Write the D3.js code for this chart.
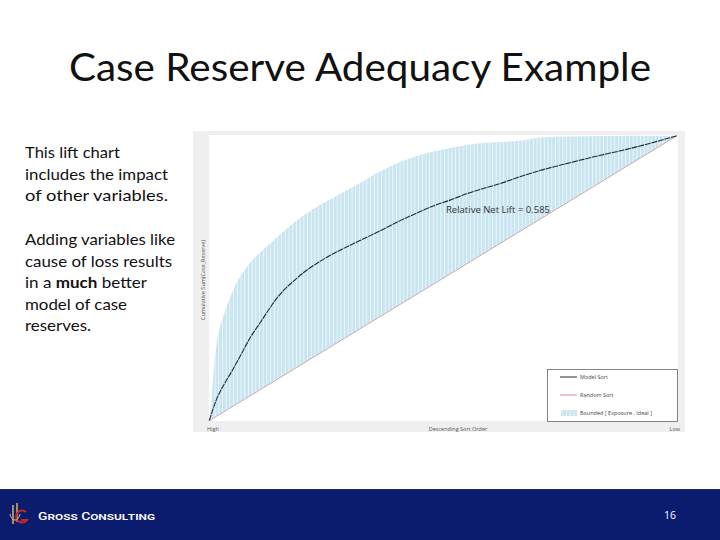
<!DOCTYPE html>
<html>
<head>
<meta charset="utf-8">
<script src="https://cdn.jsdelivr.net/npm/d3@7"></script>
<style>
  html, body { margin: 0; padding: 0; background: #ffffff; }
  svg { display: block; }
</style>
</head>
<body>
<svg id="c" width="720" height="540"></svg>
<script>
// ---- Data (percent of records sorted, percent of cumulative case reserve) ----
const modelX = [0, 1.5, 3.0, 4.8, 6.56, 8.7, 10.84, 12.98, 14.41, 15.82, 17.96, 20.83, 23.67, 26.51, 29.38, 32.2, 37.2, 40.8, 44.3, 47.2, 51.5, 55.0, 58.6, 62.2, 66.4, 71.4, 77.1, 82.0, 85.7, 89.2, 92.8, 96.4, 100];
const modelY = [0, 7.3, 12.3, 17.3, 22.5, 29.0, 34.3, 39.6, 42.9, 45.6, 48.9, 52.8, 55.9, 58.6, 61.0, 63.2, 67.2, 70.2, 72.8, 74.9, 77.4, 79.6, 81.5, 83.2, 85.6, 88.1, 90.5, 92.5, 93.9, 95.2, 96.7, 98.3, 100];
const idealX = [0, 0.51, 1.0, 1.58, 2.99, 5.13, 8.7, 12.27, 15.82, 19.39, 22.96, 26.45, 32.2, 37.1, 44.3, 51.5, 58.5, 66.4, 71.4, 85.7, 100];
const idealY = [0, 8.4, 19.0, 27.3, 36.5, 45.9, 55.3, 61.1, 66.3, 71.1, 75.0, 78.1, 83.4, 88.0, 92.9, 95.7, 97.4, 98.2, 99.5, 99.9, 100];
const randomX = [0, 100];
const randomY = [0, 100];
const xTickLabels = ["High", "Descending Sort Order", "Low"];
const yAxisLabel = "Cumulative Sum(Case_Reserve)";
const annotation = "Relative Net Lift = 0.585";
const legendLabels = ["Model Sort", "Random Sort", "Bounded [ Exposure , Ideal ]"];
const titleText = "Case Reserve Adequacy Example";
const bodyLines = [
  [{t: "This lift chart"}],
  [{t: "includes the impact"}],
  [{t: "of other variables."}],
  null,
  [{t: "Adding variables like"}],
  [{t: "cause of loss results"}],
  [{t: "in a "}, {t: "much", b: true}, {t: " better"}],
  [{t: "model of case"}],
  [{t: "reserves."}]
];
const bodyWidths = [95, 143, 143, null, 150, 147, 122, 102, 66];
const footerName = "Gross Consulting";
const pageNumber = "16";

// ---- Drawing ----
const svg = d3.select("#c");
const defs = svg.append("defs");

// Title
svg.append("text")
  .attr("x", 360).attr("y", 81)
  .attr("text-anchor", "middle")
  .attr("font-family", "Lato, 'Open Sans', sans-serif")
  .attr("font-size", 38)
  .attr("fill", "#111")
  .attr("textLength", 582)
  .attr("lengthAdjust", "spacingAndGlyphs")
  .text(titleText);

// Left body text
const bodyG = svg.append("g")
  .attr("font-family", "Lato, 'Open Sans', sans-serif")
  .attr("font-size", 16)
  .attr("fill", "#111");
const lineY = [158, 180, 201, null, 245, 267, 288, 310, 331];
bodyLines.forEach((ln, i) => {
  if (!ln) return;
  const t = bodyG.append("text").attr("x", 25).attr("y", lineY[i])
    .attr("textLength", bodyWidths[i]).attr("lengthAdjust", "spacingAndGlyphs");
  ln.forEach(p => t.append("tspan").attr("font-weight", p.b ? 700 : 400).text(p.t));
});

// Chart frame
svg.append("rect").attr("x", 193).attr("y", 131).attr("width", 492).attr("height", 301).attr("fill", "#efefef");
svg.append("rect").attr("x", 209).attr("y", 135).attr("width", 469).attr("height", 286).attr("fill", "#ffffff");

const x = d3.scaleLinear().domain([0, 100]).range([209.3, 677]);
const y = d3.scaleLinear().domain([0, 100]).range([420.7, 135.7]);

// Stripe pattern for band
const pat = defs.append("pattern").attr("id", "stripes")
  .attr("patternUnits", "userSpaceOnUse").attr("width", 3.7).attr("height", 10);
pat.append("rect").attr("width", 3.7).attr("height", 10).attr("fill", "#c9e5f0");
pat.append("rect").attr("x", 0).attr("width", 0.8).attr("height", 10).attr("fill", "#f2f9fb");

const idealPts = idealX.map((v, i) => [v, idealY[i]]);
const interpRandom = v => randomY[0] + (randomY[1] - randomY[0]) * (v - randomX[0]) / (randomX[1] - randomX[0]);
const area = d3.area()
  .x(d => x(d[0])).y0(d => y(interpRandom(d[0]))).y1(d => y(d[1]))
  .curve(d3.curveMonotoneX);
svg.append("path").datum(idealPts).attr("d", area).attr("fill", "url(#stripes)");

// Random line
svg.append("path")
  .datum(randomX.map((v, i) => [v, randomY[i]]))
  .attr("d", d3.line().x(d => x(d[0])).y(d => y(d[1])))
  .attr("stroke", "#c9a3a6").attr("stroke-width", 0.9).attr("fill", "none");

// Model line
svg.append("path")
  .datum(modelX.map((v, i) => [v, modelY[i]]))
  .attr("d", d3.line().x(d => x(d[0])).y(d => y(d[1])).curve(d3.curveMonotoneX))
  .attr("stroke", "#1d2a3a").attr("stroke-width", 1.1).attr("fill", "none")
  .attr("stroke-dasharray", "6,0.8");

// Annotation
svg.append("text").attr("x", 446).attr("y", 213)
  .attr("font-family", "'Open Sans', 'DejaVu Sans', sans-serif").attr("font-size", 8.6)
  .attr("fill", "#333").attr("textLength", 104).attr("lengthAdjust", "spacingAndGlyphs")
  .text(annotation);

// Axis labels
const axG = svg.append("g").attr("font-family", "'Open Sans', sans-serif").attr("font-size", 5.5).attr("fill", "#555");
axG.append("text").attr("x", 207).attr("y", 431).text(xTickLabels[0]);
axG.append("text").attr("x", 458).attr("y", 431).attr("text-anchor", "middle").text(xTickLabels[1]);
axG.append("text").attr("x", 680).attr("y", 431).attr("text-anchor", "end").text(xTickLabels[2]);
axG.append("text").attr("transform", "translate(205,280) rotate(-90)").attr("text-anchor", "middle").text(yAxisLabel);

// Legend
const lg = svg.append("g");
lg.append("rect").attr("x", 547.5).attr("y", 369.5).attr("width", 130).attr("height", 52)
  .attr("fill", "#fff").attr("stroke", "#666").attr("stroke-width", 0.8);
const lgY = [377, 395, 413];
const lgT = lg.append("g").attr("font-family", "'Open Sans', sans-serif").attr("font-size", 5.5).attr("fill", "#444");
lg.append("line").attr("x1", 560).attr("x2", 577).attr("y1", lgY[0]).attr("y2", lgY[0]).attr("stroke", "#1d2a3a").attr("stroke-width", 1);
lg.append("line").attr("x1", 560).attr("x2", 577).attr("y1", lgY[1]).attr("y2", lgY[1]).attr("stroke", "#d98a90").attr("stroke-width", 1);
lg.append("rect").attr("x", 561).attr("y", lgY[2] - 3).attr("width", 16).attr("height", 6).attr("fill", "url(#stripes)");
legendLabels.forEach((l, i) => lgT.append("text").attr("x", 580).attr("y", lgY[i] + 2).text(l));

// Footer
svg.append("rect").attr("x", 0).attr("y", 489).attr("width", 720).attr("height", 51).attr("fill", "#0b1c6e");
svg.append("line").attr("x1", 0).attr("x2", 720).attr("y1", 489.5).attr("y2", 489.5).attr("stroke", "#1c2a5a").attr("stroke-width", 1);
// Logo
const logo = svg.append("g");
logo.append("path").attr("d", "M13,505 V524 M17,503 V522").attr("stroke", "#d8b25a").attr("stroke-width", 1.5).attr("fill", "none");
logo.append("path").attr("d", "M26,512 A6,6 0 1 0 27,520 H21").attr("stroke", "#c0282a").attr("stroke-width", 2).attr("fill", "none");
logo.append("path").attr("d", "M10,514 C12,522 18,522 20,514").attr("stroke", "#e8d08a").attr("stroke-width", 1).attr("fill", "none");
svg.append("text").attr("x", 38).attr("y", 520)
  .attr("font-family", "Roboto, 'Noto Sans', sans-serif").attr("font-size", 11)
  .attr("font-variant", "small-caps").attr("fill", "#fff").attr("font-weight", 500)
  .attr("textLength", 117).attr("lengthAdjust", "spacingAndGlyphs")
  .text(footerName);
svg.append("text").attr("x", 670).attr("y", 519).attr("text-anchor", "middle")
  .attr("font-family", "'Open Sans', sans-serif").attr("font-size", 10.5).attr("fill", "#fff")
  .text(pageNumber);
</script>
</body>
</html>
